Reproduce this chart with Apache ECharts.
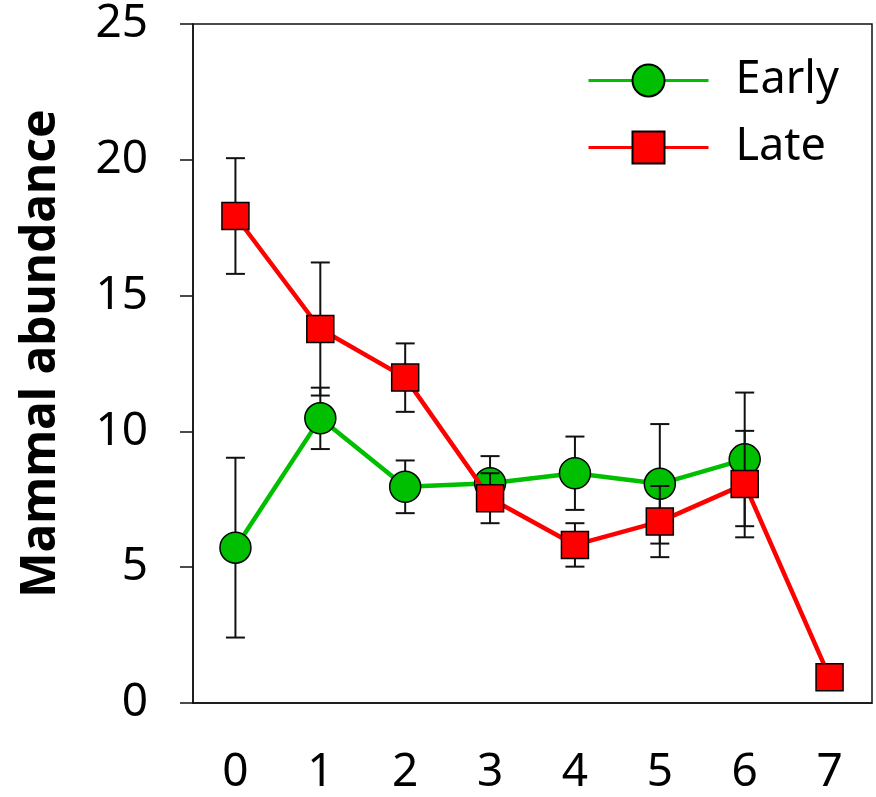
<!DOCTYPE html>
<html>
<head>
<meta charset="utf-8">
<script src="https://cdn.jsdelivr.net/npm/echarts@6/dist/echarts.min.js"></script>
<style>
  html, body { margin: 0; padding: 0; background: #fff; }
  #chart { width: 876px; height: 797px; }
</style>
</head>
<body>
<div id="chart"></div>
<script>
// Sampling periods on the x axis
const categories = ['0', '1', '2', '3', '4', '5', '6', '7'];
// Mean mammal abundance per period, with standard errors
const earlyMean = [5.72, 10.48, 7.96, 8.09, 8.46, 8.07, 8.97, null];
const earlyErr  = [3.31, 1.13, 0.97, 1.00, 1.35, 2.20, 2.46, null];
const lateMean  = [17.93, 13.77, 11.98, 7.54, 5.82, 6.68, 8.06, 0.95];
const lateErr   = [2.13, 2.45, 1.26, 0.92, 0.80, 1.31, 1.96, null];
const yTicks = [0, 5, 10, 15, 20, 25];

const FONT = '"Noto Sans", "Open Sans", sans-serif';
const GREEN = '#00BF00';
const RED = '#FF0000';

function errorData(means, errs) {
  const out = [];
  means.forEach((m, i) => {
    if (m != null && errs[i] != null) out.push([i, m - errs[i], m + errs[i]]);
  });
  return out;
}

function renderErrorBar(params, api) {
  const x = api.value(0);
  const lo = api.coord([x, api.value(1)]);
  const hi = api.coord([x, api.value(2)]);
  const half = 9.5;
  const style = { stroke: '#111', lineWidth: 2 };
  return {
    type: 'group',
    children: [
      { type: 'line', shape: { x1: lo[0], y1: lo[1], x2: hi[0], y2: hi[1] }, style },
      { type: 'line', shape: { x1: hi[0] - half, y1: hi[1], x2: hi[0] + half, y2: hi[1] }, style },
      { type: 'line', shape: { x1: lo[0] - half, y1: lo[1], x2: lo[0] + half, y2: lo[1] }, style }
    ]
  };
}

const chart = echarts.init(document.getElementById('chart'), null, { renderer: 'canvas' });

chart.setOption({
  animation: false,
  backgroundColor: '#fff',
  grid: {
    left: 193, right: 4, top: 24, bottom: 94,
    outerBoundsMode: 'none',
    containLabel: false,
    show: true, borderColor: '#111', borderWidth: 1.5, backgroundColor: 'transparent'
  },
  legend: {
    left: 587, top: 58,
    padding: 0,
    orient: 'vertical',
    itemWidth: 120, itemHeight: 40, itemGap: 22,
    lineStyle: { width: 3 },
    textStyle: { fontFamily: FONT, fontSize: 45, color: '#000', padding: [0, 0, 0, 22] },
    data: ['Early', 'Late']
  },
  xAxis: {
    type: 'category',
    data: categories,
    boundaryGap: true,
    axisLine: { lineStyle: { color: '#111', width: 1.5 } },
    axisTick: { alignWithLabel: true, length: 10, lineStyle: { color: '#111', width: 1.5 } },
    axisLabel: { fontFamily: FONT, fontSize: 46, color: '#000', margin: 47 },
    splitLine: { show: false }
  },
  yAxis: {
    type: 'value',
    min: 0, max: 25, interval: 5,
    name: 'Mammal abundance',
    nameLocation: 'middle',
    nameRotate: 90,
    nameGap: 128,
    nameTextStyle: { fontFamily: FONT, fontSize: 48, fontWeight: 'bold', color: '#000', padding: [0, 0, 0, 20] },
    axisLine: { show: true, lineStyle: { color: '#111', width: 1.5 } },
    axisTick: { show: true, length: 13, lineStyle: { color: '#111', width: 1.5 } },
    axisLabel: {
      fontFamily: FONT, fontSize: 46, color: '#000', margin: 45,
      formatter: v => (yTicks.includes(v) ? String(v) : '')
    },
    splitLine: { show: false }
  },
  series: [
    {
      name: 'EarlyErr', type: 'custom', z: 1,
      renderItem: renderErrorBar,
      data: errorData(earlyMean, earlyErr),
      encode: { x: 0, y: [1, 2] }
    },
    {
      name: 'Early', type: 'line', z: 2,
      data: earlyMean,
      symbol: 'circle', symbolSize: 31,
      lineStyle: { color: GREEN, width: 4.5 },
      itemStyle: { color: GREEN, borderColor: '#000', borderWidth: 1.5 }
    },
    {
      name: 'LateErr', type: 'custom', z: 3,
      renderItem: renderErrorBar,
      data: errorData(lateMean, lateErr),
      encode: { x: 0, y: [1, 2] }
    },
    {
      name: 'Late', type: 'line', z: 4,
      data: lateMean,
      symbol: 'rect', symbolSize: 27,
      lineStyle: { color: RED, width: 4.5 },
      itemStyle: { color: RED, borderColor: '#000', borderWidth: 1.5 }
    }
  ]
});
</script>
</body>
</html>
